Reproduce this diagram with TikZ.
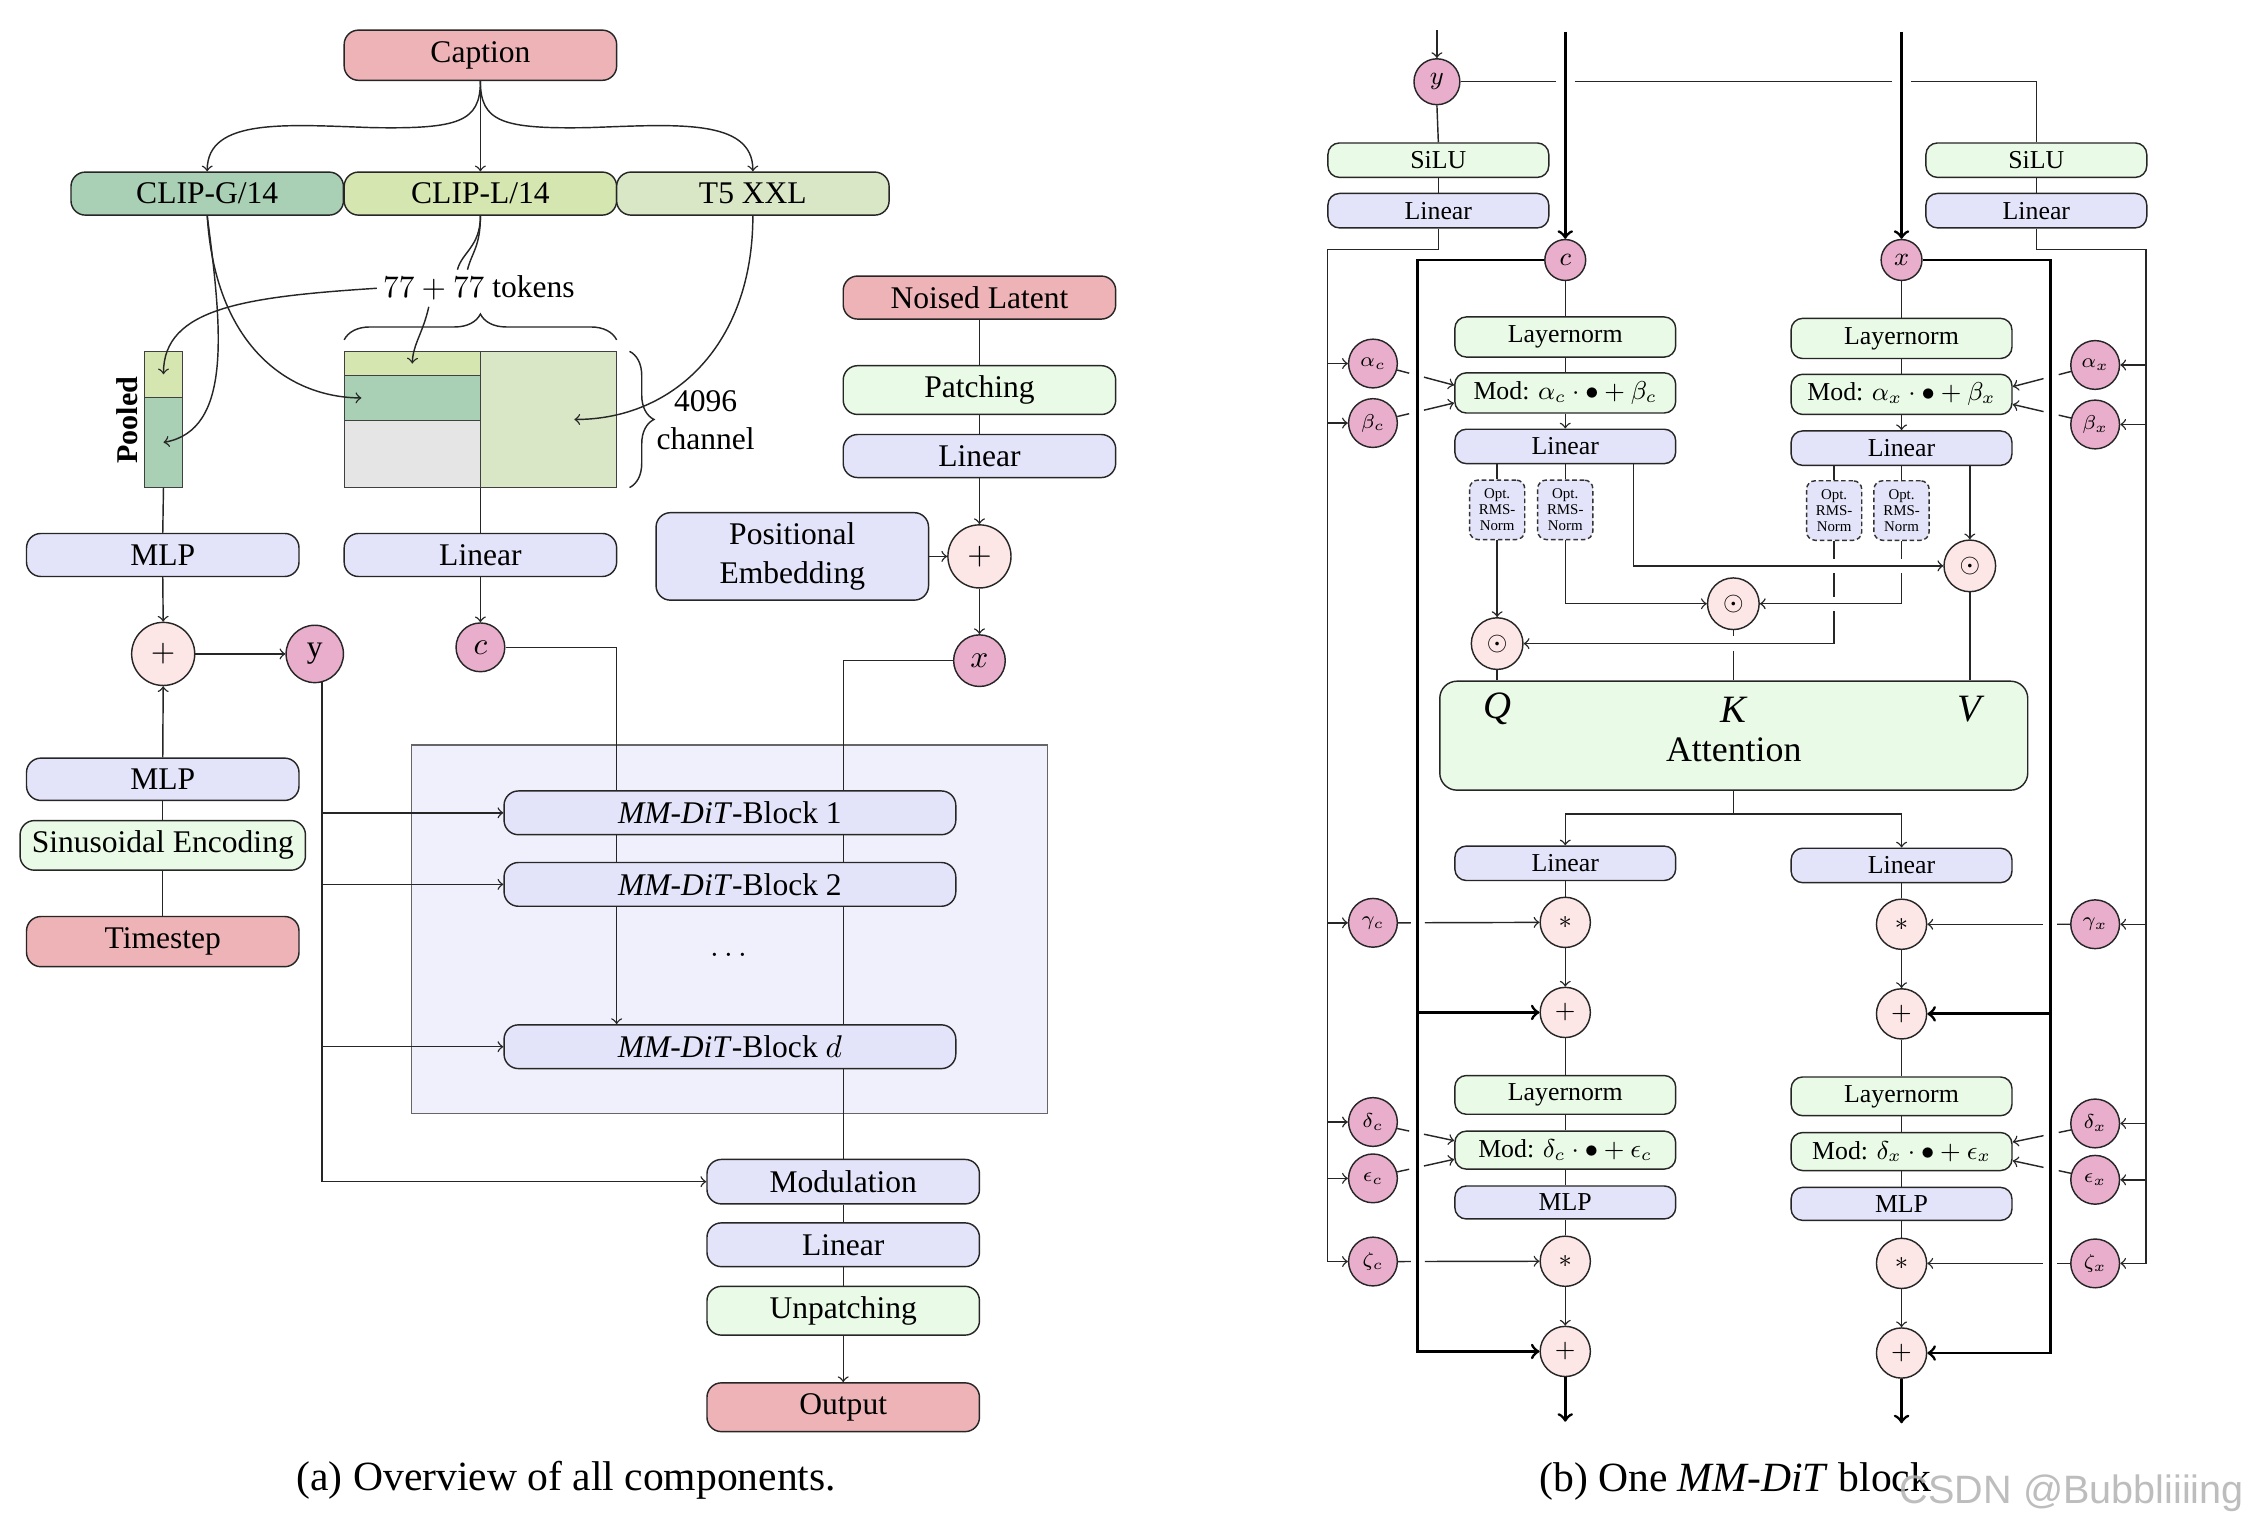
\documentclass[tikz,border=0pt]{standalone}
\usepackage{fontspec}
\setmainfont{Liberation Serif}
\newfontfamily\wmfont{Liberation Sans}
\usetikzlibrary{decorations.pathreplacing,calc}
\definecolor{cpink}{HTML}{EDB3B6}
\definecolor{cgreenD}{HTML}{A9CFB5}
\definecolor{cyel}{HTML}{D6E6B1}
\definecolor{ctfive}{HTML}{D9E7C7}
\definecolor{clav}{HTML}{E3E4F9}
\definecolor{clgreen}{HTML}{E9FBE6}
\definecolor{cplus}{HTML}{FCE6E6}
\definecolor{cmag}{HTML}{E8AECB}
\definecolor{cbox}{HTML}{F0F0FC}
\definecolor{cgray}{HTML}{E5E5E5}
\tikzset{
  bxs/.style={draw=black!85, line width=0.5pt, rounded corners=5pt, inner sep=1pt, align=center},
  bL/.style={bxs, minimum width=95pt, minimum height=15pt, font=\fontsize{11}{13.3}\selectfont},
  bR/.style={bxs, rounded corners=4pt, minimum width=77pt, minimum height=12pt, font=\fontsize{9}{10}\selectfont},
  circ/.style={circle, draw=black!85, line width=0.5pt, inner sep=0pt},
  cell/.style={draw=black!75, line width=0.4pt, inner sep=0pt, outer sep=0pt, minimum width=47.5pt},
  par/.style={circ, fill=cmag, minimum size=17pt, font=\fontsize{7.5}{8}\selectfont},
  rms/.style={draw=black!80, dash pattern=on 1.6pt off 1pt, line width=0.5pt, rounded corners=3pt, fill=clav, minimum width=19.25pt, minimum height=20.75pt, inner sep=0pt, align=center, font=\fontsize{5.2}{5.6}\selectfont},
  ln/.style={line width=0.5pt, draw=black!85},
  arr/.style={ln, ->},
  thk/.style={line width=1pt, draw=black},
  fL/.style={font=\fontsize{11}{13.5}\selectfont},
  fR/.style={font=\fontsize{9}{10}\selectfont},
  qkv/.style={font=\itshape\fontsize{13.5}{15}\selectfont},
}
\begin{document}
\begin{tikzpicture}[x=0.5pt,y=-0.5pt]
\fill[white] (0,0) rectangle (1567.6,1065.6);
\useasboundingbox (0,0) rectangle (1567.6,1065.6);

% ================= LEFT PANEL =================
\node[bL, fill=cpink, minimum height=17.5pt] (cap) at (335,38.5) {Caption};
\node[bL, fill=cgreenD] (clipg) at (144.5,135) {CLIP-G/14};
\node[bL, fill=cyel] (clipl) at (335,135) {CLIP-L/14};
\node[bL, fill=ctfive] (t5) at (525,135) {T5 XXL};
\node[fL, inner sep=2pt] (tok) at (334,201) {$77+77$ tokens};

% token matrix
\node[cell, fill=cyel, minimum height=8.5pt] (mL) at (287.5,253.5) {};
\node[cell, fill=cgreenD, minimum height=15.5pt] (mG) at (287.5,277.5) {};
\node[cell, fill=cgray, minimum height=23.5pt] (mY) at (287.5,316.5) {};
\node[cell, fill=ctfive, minimum height=47.5pt] (mT) at (382.5,292.5) {};
% pooled
\node[cell, fill=cyel, minimum width=13pt, minimum height=16pt] (pL) at (114,261) {};
\node[cell, fill=cgreenD, minimum width=13pt, minimum height=31.5pt] (pG) at (114,308.5) {};
\node[rotate=90, font=\bfseries\fontsize{10.5}{12}\selectfont] (pool) at (89,293) {Pooled};

\draw[ln, decorate, decoration={brace, amplitude=9pt}] (240,237) -- (430,237);
\draw[ln, decorate, decoration={brace, amplitude=8.5pt}] (439,245) -- (439,340);
\node[fL, align=center] (chan) at (492,293) {4096\\channel};

\node[bL, fill=clav] (mlp1) at (113.5,387) {MLP};
\node[bL, fill=clav] (lin1) at (335,387) {Linear};
\node[circ, fill=cplus, minimum size=22pt, fL] (plus1) at (113.8,456) {$+$};
\node[circ, fill=cmag, minimum size=20pt, fL] (ycirc) at (219.5,456) {y};
\node[circ, fill=cmag, minimum size=17pt, fL] (ccirc) at (335,451.4) {$c$};
\node[bL, fill=clav, minimum height=14.75pt] (mlp2) at (113.5,543.4) {MLP};
\node[bL, fill=clgreen, minimum width=99.5pt, minimum height=17.3pt] (sin) at (113.5,589.5) {Sinusoidal Encoding};
\node[bL, fill=cpink, minimum height=17.5pt] (ts) at (113.5,656.6) {Timestep};

\draw[draw=black!60, line width=0.5pt, fill=cbox] (287,519.5) rectangle (730.3,776.4);
\node[bL, fill=clav, minimum width=157.5pt, minimum height=15.25pt] (b1) at (509,566.8) {\textit{MM-DiT}-Block 1};
\node[bL, fill=clav, minimum width=157.5pt, minimum height=15.25pt] (b2) at (509,616.7) {\textit{MM-DiT}-Block 2};
\node[bL, fill=clav, minimum width=157.5pt, minimum height=15.25pt] (bd) at (509,729.9) {\textit{MM-DiT}-Block $d$};
\node[fL] (dots) at (508,666) {$\dots$};

\node[bL, fill=cpink] (noised) at (683,207.5) {Noised Latent};
\node[bL, fill=clgreen, minimum height=17pt] (patch) at (683,272) {Patching};
\node[bL, fill=clav] (lin3) at (683,318) {Linear};
\node[circ, fill=cplus, minimum size=22pt, fL] (plus2) at (683,388) {$+$};
\node[bL, fill=clav, minimum height=30.5pt] (pe) at (552.5,388) {Positional\\Embedding};
\node[circ, fill=cmag, minimum size=18pt, fL] (xcirc) at (683,460.7) {$x$};
\node[bL, fill=clav, minimum height=15.5pt] (mod) at (588,824) {Modulation};
\node[bL, fill=clav, minimum height=15.25pt] (lin2) at (588,868) {Linear};
\node[bL, fill=clgreen, minimum height=17pt] (unp) at (588,914) {Unpatching};
\node[bL, fill=cpink, minimum height=17pt] (outp) at (588,981.3) {Output};
\node[font=\fontsize{14.5}{17}\selectfont] (capa) at (394.9,1032.4) {(a) Overview of all components.};

% left connectors
\draw[arr] (cap.south) .. controls (335,85) and (320,90) .. (260,89) .. controls (200,87) and (144.5,82) .. (clipg.north);
\draw[arr] (cap.south) -- (clipl.north);
\draw[arr] (cap.south) .. controls (335,85) and (350,90) .. (410,89) .. controls (470,87) and (525,82) .. (t5.north);
\draw[ln] (clipl.south) .. controls (335,172) and (322,176) .. ([xshift=-7.5pt]tok.north);
\draw[ln] (clipl.south) .. controls (335,172) and (329,176) .. ([xshift=-4pt]tok.north);
\draw[arr] (tok.west) .. controls (170,207) and (114,215) .. (pL.center);
\draw[arr] ([xshift=-17.5pt]tok.south) .. controls (295,232) and (288,240) .. (mL.center);
\draw[arr] (clipg.south) .. controls (155,230) and (162,300) .. (pG.center);
\draw[arr] (clipg.south) .. controls (150,240) and (200,277) .. ([xshift=6pt]mG.west);
\draw[arr] (t5.south) .. controls (525,240) and (470,292.5) .. ([xshift=9pt]mT.center);

\draw[ln] (pG.south) -- (mlp1.north);
\draw[ln] (mY.south east) -- (lin1.north);
\draw[arr] (mlp1.south) -- (plus1.north);
\draw[arr] (plus1.east) -- (ycirc.west);
\draw[arr] (mlp2.north) -- (plus1.south);
\draw[ln] (ts.north) -- (sin.south);
\draw[ln] (sin.north) -- (mlp2.south);
\draw[arr] (lin1.south) -- (ccirc.north);

\draw[ln] (ccirc.east) -| ([xshift=-39.5pt]b1.north);
\draw[ln] ([xshift=-39.5pt]b1.south) -- ([xshift=-39.5pt]b2.north);
\draw[arr] ([xshift=-39.5pt]b2.south) -- ([xshift=-39.5pt]bd.north);
\draw[ln] (xcirc.west) -| ([xshift=39.5pt]b1.north);
\draw[ln] ([xshift=39.5pt]b1.south) -- ([xshift=39.5pt]b2.north);
\draw[ln] ([xshift=39.5pt]b2.south) -- ([xshift=39.5pt]bd.north);
\draw[ln] ([xshift=39.5pt]bd.south) -- (mod.north);
\draw[ln] (mod.south) -- (lin2.north);
\draw[ln] (lin2.south) -- (unp.north);
\draw[arr] (unp.south) -- (outp.north);
\draw[arr] (ycirc.-76) |- (mod.west);
\draw[arr] (ycirc.-76 |- b1.west) -- (b1.west);
\draw[arr] (ycirc.-76 |- b2.west) -- (b2.west);
\draw[arr] (ycirc.-76 |- bd.west) -- (bd.west);
\draw[ln] (noised.south) -- (patch.north);
\draw[ln] (patch.south) -- (lin3.north);
\draw[arr] (lin3.south) -- (plus2.north);
\draw[arr] (pe.east) -- (plus2.west);
\draw[arr] (plus2.south) -- (xcirc.north);

% ================= RIGHT PANEL =================
\node[circ, fill=cmag, minimum size=16pt, fR] (yb) at (1002,57) {$y$};
\coordinate (ytop) at (1002,21);
\node[bR, fill=clgreen] (silu1) at (1003,111.7) {SiLU};
\node[bR, fill=clav] (lin4) at (1003,146.9) {Linear};
\node[bR, fill=clgreen] (silu2) at (1420,111.7) {SiLU};
\node[bR, fill=clav] (lin5) at (1420,146.9) {Linear};
\node[circ, fill=cmag, minimum size=14.25pt, fR] (cb) at (1091.5,181.3) {$c$};
\node[circ, fill=cmag, minimum size=14.25pt, fR] (xb) at (1326,181.3) {$x$};
\coordinate (ctop) at (1091.5,22);
\coordinate (xtop) at (1326,22);

\node[bR, fill=clgreen, minimum height=14pt] (lnc) at (1091.5,235) {Layernorm};
\node[bR, fill=clgreen, minimum height=14pt] (lnx) at (1326,236) {Layernorm};
\node[bR, fill=clgreen, minimum height=14pt] (mdc) at (1091.5,274) {Mod: $\alpha_c\cdot\bullet+\beta_c$};
\node[bR, fill=clgreen, minimum height=14pt] (mdx) at (1326,275) {Mod: $\alpha_x\cdot\bullet+\beta_x$};
\node[bR, fill=clav] (lc) at (1091.5,311.3) {Linear};
\node[bR, fill=clav] (lx) at (1326,312.5) {Linear};
\node[rms] (rq1) at (1044,355.5) {Opt.\\RMS-\\Norm};
\node[rms] (rk1) at (1091.5,355.5) {Opt.\\RMS-\\Norm};
\node[rms] (rq2) at (1279,356) {Opt.\\RMS-\\Norm};
\node[rms] (rk2) at (1326,356) {Opt.\\RMS-\\Norm};
\node[circ, fill=cplus, minimum size=18pt, fR] (oq) at (1044,448.8) {$\odot$};
\node[circ, fill=cplus, minimum size=18pt, fR] (ok) at (1208.7,421) {$\odot$};
\node[circ, fill=cplus, minimum size=18pt, fR] (ov) at (1373.6,394.6) {$\odot$};
\node[bxs, fill=clgreen, rounded corners=6pt, minimum width=205pt, minimum height=38pt] (att) at (1209,513) {};
\node[qkv] (tq) at (1044,494.6) {Q};
\node[qkv] (tk) at (1208.7,495) {K};
\node[qkv] (tv) at (1373,494.6) {V};
\node[font=\fontsize{12.5}{14}\selectfont] (tatt) at (1209,523) {Attention};

\node[bR, fill=clav] (lc2) at (1091.5,602) {Linear};
\node[bR, fill=clav] (lx2) at (1326,603.5) {Linear};
\node[circ, fill=cplus, minimum size=17.5pt, fR] (sc1) at (1091.5,643.2) {$*$};
\node[circ, fill=cplus, minimum size=17.5pt, fR] (sx1) at (1326,644.5) {$*$};
\node[circ, fill=cplus, minimum size=17.5pt, fR] (pc1) at (1091.5,706) {$+$};
\node[circ, fill=cplus, minimum size=17.5pt, fR] (px1) at (1326,707) {$+$};
\node[bR, fill=clgreen, minimum height=13.5pt] (lnc2) at (1091.5,763.5) {Layernorm};
\node[bR, fill=clgreen, minimum height=13.5pt] (lnx2) at (1326,764.5) {Layernorm};
\node[bR, fill=clgreen, minimum height=13.25pt] (mdc2) at (1091.5,802) {Mod: $\delta_c\cdot\bullet+\epsilon_c$};
\node[bR, fill=clgreen, minimum height=13.25pt] (mdx2) at (1326,803) {Mod: $\delta_x\cdot\bullet+\epsilon_x$};
\node[bR, fill=clav, minimum height=11.5pt] (mlpc) at (1091.5,838.5) {MLP};
\node[bR, fill=clav, minimum height=11.5pt] (mlpx) at (1326,839.5) {MLP};
\node[circ, fill=cplus, minimum size=17.5pt, fR] (sc2) at (1091.5,879.5) {$*$};
\node[circ, fill=cplus, minimum size=17.5pt, fR] (sx2) at (1326,881) {$*$};
\node[circ, fill=cplus, minimum size=17.5pt, fR] (pc2) at (1091.5,942.4) {$+$};
\node[circ, fill=cplus, minimum size=17.5pt, fR] (px2) at (1326,943.5) {$+$};
\coordinate (oc) at (1091.5,991.4);
\coordinate (ox) at (1326,992.5);

% parameters
\node[par] (pac) at (957.4,253.5) {$\alpha_c$};
\node[par] (pbc) at (957.4,295) {$\beta_c$};
\node[par] (pgc) at (957.4,643.5) {$\gamma_c$};
\node[par] (pdc) at (957.4,782.4) {$\delta_c$};
\node[par] (pec) at (957.4,821.7) {$\epsilon_c$};
\node[par] (pzc) at (957.4,879.7) {$\zeta_c$};
\node[par] (pax) at (1461,254.5) {$\alpha_x$};
\node[par] (pbx) at (1461,296) {$\beta_x$};
\node[par] (pgx) at (1461,644.5) {$\gamma_x$};
\node[par] (pdx) at (1461,783.4) {$\delta_x$};
\node[par] (pex) at (1461,822.7) {$\epsilon_x$};
\node[par] (pzx) at (1461,881) {$\zeta_x$};

\coordinate (lft) at (925.6,174);
\coordinate (rgt) at (1496.5,174);
\draw[arr] (lin4.south) |- (lft) |- (pzc.west);
\foreach \n in {pac,pbc,pgc,pdc,pec} {\draw[arr] (lft |- \n.west) -- (\n.west);}
\draw[arr] (lin5.south) |- (rgt) |- (pzx.east);
\foreach \n in {pax,pbx,pgx,pdx,pex} {\draw[arr] (rgt |- \n.east) -- (\n.east);}

% y distribution
\draw[arr] (ytop) -- (yb.north);
\draw[ln] (yb.south) -- (silu1.north);
\draw[ln] (silu1.south) -- (lin4.north);
\draw[ln] (yb.east) -- ($(ctop |- yb.east)+(-6.5,0)$);
\draw[ln] ($(ctop |- yb.east)+(6.5,0)$) -- ($(xtop |- yb.east)+(-6.5,0)$);
\draw[ln] ($(xtop |- yb.east)+(6.5,0)$) -| (silu2.north);
\draw[ln] (silu2.south) -- (lin5.north);

% thick residual paths
\coordinate (lb) at (988.3,181.3);
\coordinate (rb) at (1429.8,181.3);
\draw[thk,->] (ctop) -- (cb.north);
\draw[thk,->] (xtop) -- (xb.north);
\draw[thk,->] (cb.west) -- (lb) |- (pc2.west);
\draw[thk,->] (lb |- pc1.west) -- (pc1.west);
\draw[thk,->] (xb.east) -- (rb) |- (px2.east);
\draw[thk,->] (rb |- px1.east) -- (px1.east);
\draw[thk,->] (pc2.south) -- (oc);
\draw[thk,->] (px2.south) -- (ox);

% column c upper
\draw[ln] (cb.south) -- (lnc.north);
\draw[ln] (lnc.south) -- (mdc.north);
\draw[arr] (mdc.south) -- (lc.north);
\draw[ln] (rq1.north |- lc.south) -- (rq1.north);
\draw[ln] (lc.south) -- (rk1.north);
\draw[arr] (rq1.south) -- (oq.north);
\draw[arr] (rk1.south) |- (ok.west);
\draw[arr] ([xshift=23.75pt]lc.south) |- (ov.west);
% column x upper
\draw[ln] (xb.south) -- (lnx.north);
\draw[ln] (lnx.south) -- (mdx.north);
\draw[arr] (mdx.south) -- (lx.north);
\draw[ln] (rq2.north |- lx.south) -- (rq2.north);
\draw[ln] (lx.south) -- (rk2.north);
\draw[arr] (ov.north |- lx.south) -- (ov.north);
\draw[ln] (rq2.south) -- ($(rq2.south |- ov)+(0,-5)$);
\draw[ln] ($(rq2.south |- ov)+(0,5)$) -- ($(rq2.south |- ok)+(0,-5)$);
\draw[arr] ($(rq2.south |- ok)+(0,5)$) |- (oq.east);
\draw[ln] (rk2.south) -- ($(rk2.south |- ov)+(0,-5)$);
\draw[arr] ($(rk2.south |- ov)+(0,5)$) |- (ok.east);
% into attention
\draw[ln] (oq.south) -- (oq.south |- att.north);
\draw[ln] (ok.south) -- ($(ok.south |- oq)+(0,-5)$);
\draw[ln] ($(ok.south |- oq)+(0,5)$) -- (ok.south |- att.north);
\draw[ln] (ov.south) -- (ov.south |- att.north);
\draw[ln] (att.south) -- ($(att.south)+(0,16)$) coordinate (spl);
\draw[arr] (spl) -| (lc2.north);
\draw[arr] (spl) -| (lx2.north);

% lower columns
\draw[ln] (lc2.south) -- (sc1.north);
\draw[arr] (sc1.south) -- (pc1.north);
\draw[ln] (pc1.south) -- (lnc2.north);
\draw[ln] (lnc2.south) -- (mdc2.north);
\draw[ln] (mdc2.south) -- (mlpc.north);
\draw[ln] (mlpc.south) -- (sc2.north);
\draw[arr] (sc2.south) -- (pc2.north);
\draw[ln] (lx2.south) -- (sx1.north);
\draw[arr] (sx1.south) -- (px1.north);
\draw[ln] (px1.south) -- (lnx2.north);
\draw[ln] (lnx2.south) -- (mdx2.north);
\draw[ln] (mdx2.south) -- (mlpx.north);
\draw[ln] (mlpx.south) -- (sx2.north);
\draw[arr] (sx2.south) -- (px2.north);

% parameter connectors with line hops
\draw[ln] (pac.-15) -- ($(pac.-15)!0.21!([yshift=2.7pt]mdc.west)$);
\draw[arr] ($(pac.-15)!0.47!([yshift=2.7pt]mdc.west)$) -- ([yshift=2.7pt]mdc.west);
\draw[ln] (pbc.15) -- ($(pbc.15)!0.21!([yshift=-3.5pt]mdc.west)$);
\draw[arr] ($(pbc.15)!0.47!([yshift=-3.5pt]mdc.west)$) -- ([yshift=-3.5pt]mdc.west);
\draw[ln] (pdc.-15) -- ($(pdc.-15)!0.21!([yshift=3.3pt]mdc2.west)$);
\draw[arr] ($(pdc.-15)!0.47!([yshift=3.3pt]mdc2.west)$) -- ([yshift=3.3pt]mdc2.west);
\draw[ln] (pec.15) -- ($(pec.15)!0.21!([yshift=-3.2pt]mdc2.west)$);
\draw[arr] ($(pec.15)!0.47!([yshift=-3.2pt]mdc2.west)$) -- ([yshift=-3.2pt]mdc2.west);
\draw[ln] (pgc.east) -- ($(pgc.east)!0.09!(sc1.west)$);
\draw[arr] ($(pgc.east)!0.19!(sc1.west)$) -- (sc1.west);
\draw[ln] (pzc.east) -- ($(pzc.east)!0.09!(sc2.west)$);
\draw[arr] ($(pzc.east)!0.19!(sc2.west)$) -- (sc2.west);

\draw[ln] (pax.195) -- ($(pax.195)!0.21!([yshift=2.7pt]mdx.east)$);
\draw[arr] ($(pax.195)!0.47!([yshift=2.7pt]mdx.east)$) -- ([yshift=2.7pt]mdx.east);
\draw[ln] (pbx.165) -- ($(pbx.165)!0.21!([yshift=-3.5pt]mdx.east)$);
\draw[arr] ($(pbx.165)!0.47!([yshift=-3.5pt]mdx.east)$) -- ([yshift=-3.5pt]mdx.east);
\draw[ln] (pdx.195) -- ($(pdx.195)!0.21!([yshift=3.3pt]mdx2.east)$);
\draw[arr] ($(pdx.195)!0.47!([yshift=3.3pt]mdx2.east)$) -- ([yshift=3.3pt]mdx2.east);
\draw[ln] (pex.165) -- ($(pex.165)!0.21!([yshift=-3.2pt]mdx2.east)$);
\draw[arr] ($(pex.165)!0.47!([yshift=-3.2pt]mdx2.east)$) -- ([yshift=-3.2pt]mdx2.east);
\draw[ln] (pgx.west) -- ($(pgx.west)!0.09!(sx1.east)$);
\draw[arr] ($(pgx.west)!0.19!(sx1.east)$) -- (sx1.east);
\draw[ln] (pzx.west) -- ($(pzx.west)!0.09!(sx2.east)$);
\draw[arr] ($(pzx.west)!0.19!(sx2.east)$) -- (sx2.east);

\node[font=\fontsize{14.5}{17}\selectfont] (capb) at (1210,1033) {(b) One \textit{MM-DiT} block};
\node[anchor=east, inner sep=0pt, font=\wmfont\fontsize{13.8}{16}\selectfont, text=gray!60, opacity=0.85] (wm) at (1565,1041) {CSDN @Bubbliiiing};
\end{tikzpicture}
\end{document}
